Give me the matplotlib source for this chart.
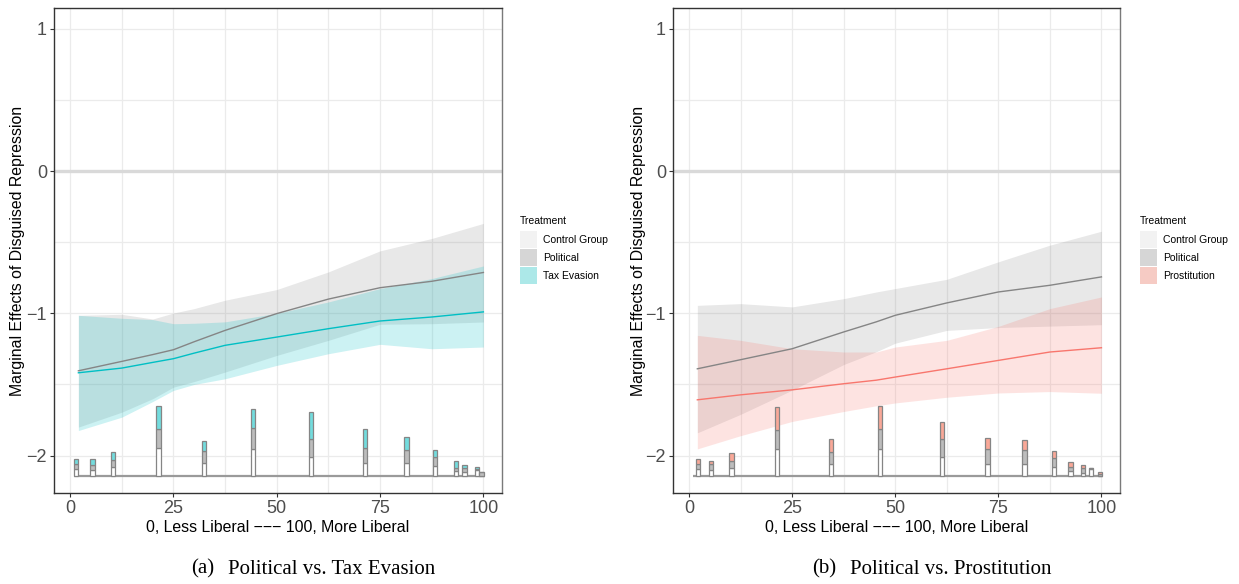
import numpy as np
import matplotlib
matplotlib.use('Agg')
import matplotlib.pyplot as plt
from matplotlib.patches import Rectangle

plt.rcParams['font.family'] = ['Liberation Sans', 'DejaVu Sans']

# ---- panel (a): Political vs. Tax Evasion ----
xa = [2, 12.5, 20, 25, 30, 37.5, 50, 62.5, 75, 87.5, 100]
pol_a_fit = [-1.404, -1.338, -1.29, -1.256, -1.2, -1.12, -1.002, -0.90, -0.82, -0.775, -0.713]
pol_a_hi = [-1.014, -1.007, -1.04, -0.998, -0.967, -0.908, -0.833, -0.709, -0.561, -0.474, -0.368]
pol_a_lo = [-1.80, -1.695, -1.60, -1.519, -1.48, -1.413, -1.296, -1.19, -1.077, -1.073, -1.061]
tax_fit = [-1.418, -1.385, -1.345, -1.319, -1.28, -1.225, -1.167, -1.108, -1.054, -1.026, -0.99]
tax_hi = [-1.014, -1.035, -1.044, -1.073, -1.07, -1.06, -1.0, -0.92, -0.826, -0.756, -0.667]
tax_lo = [-1.824, -1.73, -1.62, -1.542, -1.50, -1.46, -1.366, -1.284, -1.218, -1.249, -1.237]

bins_a = [1.4, 5.4, 10.4, 21.4, 32.4, 44.3, 58.3, 71.3, 81.4, 88.3, 93.4, 95.4, 98.4, 99.6]
ctrl_a = [10, 8, 12, 39, 18, 38, 26, 18, 18, 13, 7, 5, 8, 0]
pol_a = [6, 7, 10, 27, 16, 29, 26, 21, 18, 13, 4, 6, 2, 5]
tax_a = [7, 9, 11, 32, 14, 26, 38, 26, 18, 10, 10, 4, 2, 0]

# ---- panel (b): Political vs. Prostitution ----
xb = [2, 12.5, 25, 37.5, 45.4, 50, 62.5, 75, 87.5, 100]
pol_b_fit = [-1.39, -1.326, -1.249, -1.131, -1.06, -1.014, -0.927, -0.85, -0.803, -0.744]
pol_b_hi = [-0.944, -0.932, -0.955, -0.897, -0.85, -0.826, -0.761, -0.638, -0.521, -0.423]
pol_b_lo = [-1.84, -1.71, -1.54, -1.36, -1.27, -1.21, -1.12, -1.10, -1.09, -1.08]
pro_fit = [-1.608, -1.573, -1.538, -1.495, -1.47, -1.448, -1.39, -1.331, -1.272, -1.242]
pro_hi = [-1.155, -1.19, -1.249, -1.272, -1.272, -1.237, -1.19, -1.092, -0.967, -0.885]
pro_lo = [-1.953, -1.86, -1.76, -1.69, -1.65, -1.63, -1.59, -1.56, -1.55, -1.562]

bins_b = [2.2, 5.3, 10.3, 21.3, 34.4, 46.3, 61.3, 72.4, 81.4, 88.5, 92.5, 95.5, 97.5, 99.6]
ctrl_b = [9, 8, 11, 38, 17, 38, 26, 17, 17, 12, 7, 4, 10, 0]
pol_b = [7, 8, 10, 26, 16, 28, 26, 21, 19, 13, 5, 7, 1, 3]
pro_b = [8, 5, 11, 33, 19, 32, 24, 15, 14, 10, 7, 4, 0, 2]

hist_base = -2.141
hist_scale = 0.005  # y units per count

W, H = 1239, 584
fig = plt.figure(figsize=(W / 100, H / 100), dpi=100)


def px(x0, y0, x1, y1):
    return [x0 / W, 1 - y1 / H, (x1 - x0) / W, (y1 - y0) / H]


def panel(rect, x, pfit, phi, plo, tfit, thi, tlo, bins, ctrl, pol, trt,
          tcol, tbar, tkey, tname, leg_x, ylab_x, tag, tag_x, cap, cap_x):
    ax = fig.add_axes(px(*rect))
    ax.set_xlim(-3.9, 104.5)
    ax.set_ylim(-2.263, 1.146)
    ax.set_xticks([0, 25, 50, 75, 100])
    ax.set_xticks([12.5, 37.5, 62.5, 87.5], minor=True)
    ax.set_yticks([-2, -1, 0, 1])
    ax.set_yticklabels(['\u22122', '\u22121', '0', '1'])
    ax.set_yticks([-1.5, -0.5, 0.5], minor=True)
    ax.grid(True, which='both', color='#ebebeb', lw=0.9)
    ax.set_axisbelow(True)
    ax.tick_params(which='major', length=3, width=0.8, color='#333333',
                   labelsize=13, labelcolor='#4d4d4d', pad=2)
    ax.tick_params(which='minor', length=0)
    for s in ['left', 'bottom', 'top']:
        ax.spines[s].set_color('#333333')
        ax.spines[s].set_linewidth(1.0)
    ax.spines['right'].set_color('#7a7a7a')
    ax.spines['right'].set_linewidth(1.0)

    ax.axhline(0, color='#d9d9d9', lw=2.4, zorder=1)

    ax.fill_between(x, plo, phi, color='#808080', alpha=0.18, lw=0, zorder=2)
    ax.fill_between(x, tlo, thi, color=tcol, alpha=0.2, lw=0, zorder=2)
    ax.plot(x, pfit, color='#858585', lw=1.0, zorder=3)
    ax.plot(x, tfit, color=tcol, lw=1.0, zorder=3)

    # histogram of moderator by treatment group
    ctrl = np.array(ctrl) * hist_scale
    pol = np.array(pol) * hist_scale
    trt = np.array(trt) * hist_scale
    ax.hlines(hist_base, 1.0, 100.3, color='#9a9a9a', lw=1.6, zorder=3)
    kw = dict(width=1.1, edgecolor='#858585', linewidth=0.9, zorder=4)
    ax.bar(bins, ctrl, bottom=hist_base, color='white', **kw)
    ax.bar(bins, pol, bottom=hist_base + ctrl, color='#bdbdbd', **kw)
    ax.bar(bins, trt, bottom=hist_base + ctrl + pol, color=tbar, **kw)

    ax.set_xlabel('0, Less Liberal \u2212\u2212\u2212 100, More Liberal', fontsize=11.4, labelpad=2)
    fig.text(ylab_x / W, 1 - 251 / H, 'Marginal Effects of Disguised Repression',
             rotation=90, ha='center', va='center', fontsize=11.4)

    # legend
    fig.text(leg_x / W, 1 - 221 / H, 'Treatment', fontsize=7.5, ha='left', va='center')
    keys = [('Control Group', '#f2f2f2'), ('Political', '#d6d6d6'), (tname, tkey)]
    for i, (lab, c) in enumerate(keys):
        y0 = 231 + i * 18
        fig.add_artist(Rectangle((leg_x / W, 1 - (y0 + 17) / H), 17 / W, 17 / H,
                                 transform=fig.transFigure, facecolor=c, edgecolor='none'))
        fig.text((leg_x + 23) / W, 1 - (y0 + 9) / H, lab, fontsize=7.5, ha='left', va='center')

    serif = ['Liberation Serif', 'DejaVu Serif']
    fig.text(tag_x / W, 1 - 569 / H, tag, fontsize=15, ha='right', va='center', family=serif)
    fig.text(cap_x / W, 1 - 569 / H, cap, fontsize=15, ha='left', va='center', family=serif)
    return ax


panel((54, 8, 502, 493), xa, pol_a_fit, pol_a_hi, pol_a_lo, tax_fit, tax_hi, tax_lo,
      bins_a, ctrl_a, pol_a, tax_a, '#00BFC4', '#73dcde', '#ace8e8', 'Tax Evasion',
      520, 18, '(a)', 214, 'Political vs. Tax Evasion', 228)
panel((673, 8, 1120, 493), xb, pol_b_fit, pol_b_hi, pol_b_lo, pro_fit, pro_hi, pro_lo,
      bins_b, ctrl_b, pol_b, pro_b, '#F8766D', '#f9a898', '#f6cbc4', 'Prostitution',
      1140, 638, '(b)', 836, 'Political vs. Prostitution', 850)

fig.savefig('out.png', dpi=100)
